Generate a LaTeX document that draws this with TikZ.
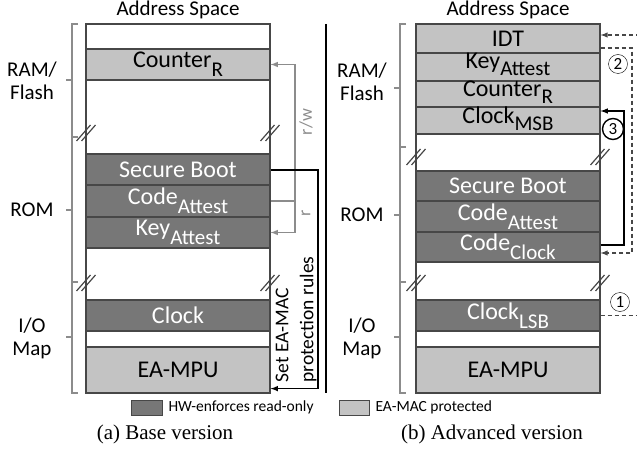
\documentclass[tikz,border=0pt]{standalone}
\usepackage{fontspec}
\setmainfont{Carlito}
\newfontfamily\capfont{Liberation Serif}
\definecolor{dk}{HTML}{777777}
\definecolor{lt}{HTML}{C3C3C3}
\definecolor{edge}{HTML}{474747}
\definecolor{brc}{HTML}{8C8C8C}
\newcommand{\lo}[1]{\raisebox{-0.38em}{\fontsize{21}{21}\selectfont #1}}
\newcommand{\lw}[1]{\raisebox{-0.3em}{\fontsize{21}{21}\selectfont #1}}

\begin{document}
\begin{tikzpicture}[x=1pt,y=-1pt,>=latex]
\useasboundingbox (0,0) rectangle (637,457);
\tikzstyle{seg} = [draw=edge, line width=1.2pt, minimum width=184pt, inner sep=0pt, font=\fontsize{24}{26}\selectfont];
\tikzstyle{ro} = [seg, fill=dk, text=white];
\tikzstyle{prot} = [seg, fill=lt];
\tikzstyle{free} = [seg, fill=white];
\tikzstyle{side} = [align=center, font=\fontsize{21}{23}\selectfont];
\tikzstyle{num} = [circle, draw, inner sep=0pt, minimum size=19pt, font=\fontsize{17}{17}\selectfont];
\tikzstyle{dsh} = [draw=edge, line width=1.4pt, dash pattern=on 4pt off 3pt];

% (a) base version
\node[font=\fontsize{21}{23}\selectfont] (as) at (178,10) {Address Space};
\node[free, minimum height=25pt] (e1) at (178,36.5) {};
\node[prot, minimum height=31pt] (cnt) at (178,64.5) {Counter\lo{R}};
\node[free, minimum height=74pt] (e2) at (178,117) {};
\node[ro, minimum height=31pt] (sb) at (178,169.5) {Secure Boot};
\node[ro, minimum height=32pt] (ca) at (178,201) {Code\lo{Attest}};
\node[ro, minimum height=31pt] (ka) at (178,232.5) {Key\lo{Attest}};
\node[free, minimum height=52pt] (e3) at (178,274) {};
\node[ro, minimum height=31pt] (clk) at (178,315.5) {Clock};
\node[free, minimum height=16pt] (e4) at (178,339) {};
\node[prot, minimum height=46pt] (mpu) at (178,370) {EA-MPU};

\node[side] (ram) at (32,81) {RAM/\\Flash};
\node[side] (rom) at (32,210) {ROM};
\node[side] (io) at (32,338) {I/O\\Map};
\foreach \a/\m/\b in {24/80/137, 137/210/282, 282/337/393}
  \draw[brc, line width=1.2pt] (78,\a) -- (72,\a) -- (72,\b) -- (78,\b) (72,\m) -- (66,\m);

\draw[brc, line width=1.5pt, ->] (ca.east) -- (295,201) |- (cnt.east);
\draw[brc, line width=1.5pt, ->] (295,201) |- (ka.east);
\node[rotate=90, text=brc, font=\fontsize{18}{18}\selectfont] (rw) at (306,122) {r/w};
\node[rotate=90, text=brc, font=\fontsize{18}{18}\selectfont] (rd) at (306,213) {r};

\draw[line width=1.5pt, ->] ([yshift=-0.5pt]sb.east) -- (318,170) |- ([yshift=5pt]mpu.south east);
\node[rotate=90, align=left, font=\fontsize{19.5}{25}\selectfont, anchor=west] (set) at (296,386) {Set EA-MAC\\protection rules};

\draw[line width=1.5pt] (326,24) coordinate (s1) -- (326,393) coordinate (s2);

% (b) advanced version
\node[font=\fontsize{21}{23}\selectfont] (bs) at (508,10) {Address Space};
\node[prot, minimum height=29pt] (idt) at (508,38.5) {IDT};
\node[prot, minimum height=28pt] (bka) at (508,67) {};
\node[prot, minimum height=26pt] (bcnt) at (508,94) {};
\node[prot, minimum height=27pt] (msb) at (508,120.5) {};
\node[free, minimum height=37pt] (f2) at (508,152.5) {};
\node[ro, minimum height=30pt] (bsb) at (508,186) {Secure Boot};
\node[ro, minimum height=31pt] (bca) at (508,216.5) {Code\lo{Attest}};
\node[ro, minimum height=30pt] (cc) at (508,247) {Code\lo{Clock}};
\node[free, minimum height=38pt] (f3) at (508,281) {};
\node[ro, minimum height=31pt] (lsb) at (508,315.5) {Clock\lo{LSB}};
\node[free, minimum height=16pt] (f4) at (508,339) {};
\node[prot, minimum height=46pt] (bmpu) at (508,370) {EA-MPU};
% tight rows: text set a little high
\node[font=\fontsize{24}{26}\selectfont, inner sep=0pt] (tka) at (508,64) {Key\lw{Attest}};
\node[font=\fontsize{24}{26}\selectfont, inner sep=0pt] (tcnt) at (508,92) {Counter\lw{R}};
\node[font=\fontsize{24}{26}\selectfont, inner sep=0pt] (tmsb) at (508,119) {Clock\lw{MSB}};

\node[side] (bram) at (362,82) {RAM/\\Flash};
\node[side] (brom) at (362,215) {ROM};
\node[side] (bio) at (362,338) {I/O\\Map};
\foreach \a/\m/\b in {24/88/147, 147/215/282, 282/337/393}
  \draw[brc, line width=1.2pt] (406,\a) -- (400,\a) -- (400,\b) -- (406,\b) (400,\m) -- (394,\m);

% break marks
\foreach \x/\y in {86/133, 270/133, 86/283, 270/283, 416/157, 600/157, 416/283, 600/283}
  \draw[edge, line width=1.2pt] (\x-9.5,\y+8) -- ++(14,-16) (\x-4.5,\y+8) -- ++(14,-16);

\draw[dsh, ->] ([yshift=-9.5pt]idt.east) -- (632,48) |- ([yshift=-6pt]cc.east);
\draw[line width=1.5pt, ->] ([yshift=2pt]cc.east) -- (624,245) |- ([yshift=9.5pt]msb.east);
\draw[dsh, ->] (lsb.east) -- (648,315.5) |- ([yshift=3.5pt]idt.east);
\node[num] (n2) at (618,64) {2};
\node[num, line width=1.4pt, minimum size=21pt] (n3) at (613,129) {3};
\node[num] (n1) at (620,302) {1};

% legend
\node[draw=edge, fill=dk, minimum width=31pt, minimum height=15pt, inner sep=0pt] (k1) at (146.5,407.5) {};
\node[anchor=west, font=\fontsize{15.5}{17}\selectfont] (t1) at (165,407.5) {HW-enforces read-only};
\node[draw=edge, fill=lt, minimum width=30pt, minimum height=15pt, inner sep=0pt] (k2) at (354,407.5) {};
\node[anchor=west, font=\fontsize{15.5}{17}\selectfont] (t2) at (372,407.5) {EA-MAC protected};

\node[font=\capfont\fontsize{21}{23}\selectfont] (cap1) at (165,434) {(a) Base version};
\node[font=\capfont\fontsize{21}{23}\selectfont] (cap2) at (492,434) {(b) Advanced version};
\end{tikzpicture}
\end{document}
